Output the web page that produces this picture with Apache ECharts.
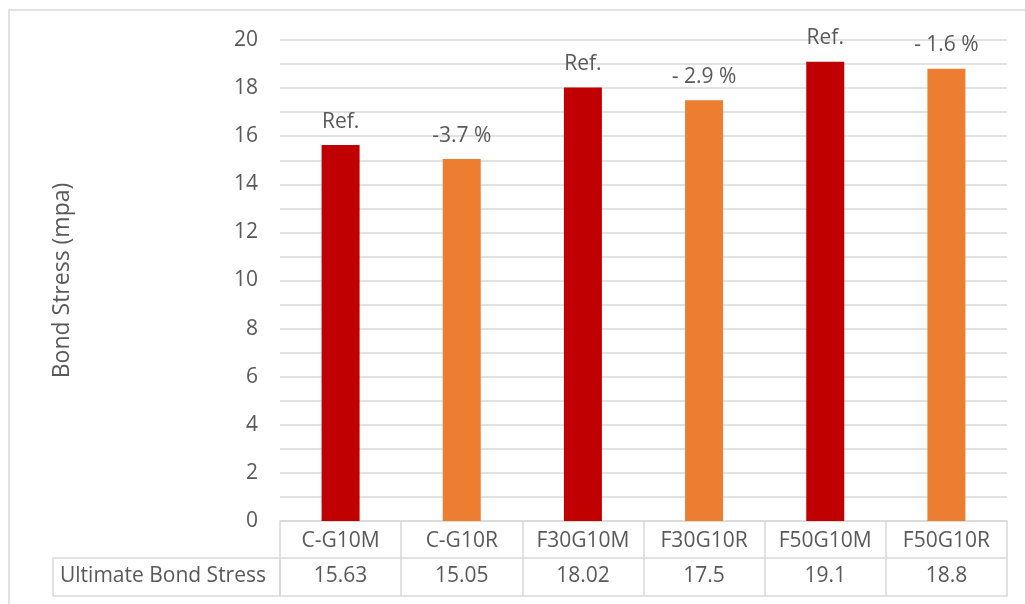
<!DOCTYPE html>
<html>
<head>
<meta charset="utf-8">
<script src="https://cdn.jsdelivr.net/npm/echarts@6/dist/echarts.min.js"></script>
<style>
  html, body { margin: 0; padding: 0; background: #ffffff; }
  #chart { width: 1025px; height: 604px; }
</style>
</head>
<body>
<div id="chart"></div>
<script>
// Specimen names, ultimate bond stress (MPa) and the note shown over each column
const categories = ['C-G10M', 'C-G10R', 'F30G10M', 'F30G10R', 'F50G10M', 'F50G10R'];
const bondStress = [15.63, 15.05, 18.02, 17.5, 19.1, 18.8];
const notes = ['Ref.', '-3.7 %', 'Ref.', '- 2.9 %', 'Ref.', '- 1.6 %'];
const seriesName = 'Ultimate Bond Stress';
const yTicks = { min: 0, max: 20, interval: 2 };

const FONT = '"Open Sans", Lato, sans-serif';
const FS = 21;
const TEXT = '#595959';
const LINE = '#d9d9d9';
const MAIN = '#C00000';
const ALT = '#ED7D31';

const chart = echarts.init(document.getElementById('chart'), null, { renderer: 'canvas' });

const option = {
  backgroundColor: '#ffffff',
  animation: false,
  textStyle: { fontFamily: FONT },
  grid: { left: 280, right: 18, top: 40, bottom: 83, containLabel: false },
  xAxis: [
    {
      // category row of the data table
      type: 'category',
      data: categories,
      position: 'bottom',
      axisLine: { show: true, lineStyle: { color: LINE, width: 1.5 } },
      axisTick: { show: true, interval: 0, length: 75, lineStyle: { color: LINE, width: 1.5 } },
      axisLabel: { interval: 0, margin: 10, fontSize: FS, color: TEXT, fontFamily: FONT }
    },
    {
      // value row of the data table
      type: 'category',
      data: categories,
      position: 'bottom',
      offset: 37,
      axisLine: { show: true, lineStyle: { color: LINE, width: 1.5 } },
      axisTick: { show: false },
      axisLabel: {
        interval: 0, margin: 8, fontSize: FS, color: TEXT, fontFamily: FONT,
        formatter: (v, i) => String(bondStress[i])
      }
    },
    {
      // bottom border of the data table
      type: 'category',
      data: categories,
      position: 'bottom',
      offset: 75,
      axisLine: { show: true, lineStyle: { color: LINE, width: 1.5 } },
      axisTick: { show: false },
      axisLabel: { show: false }
    }
  ],
  yAxis: {
    type: 'value',
    min: yTicks.min,
    max: yTicks.max,
    interval: yTicks.interval,
    name: 'Bond Stress (mpa)',
    nameLocation: 'middle',
    nameGap: 206,
    nameRotate: 90,
    nameTextStyle: { fontSize: 23, color: TEXT, fontFamily: FONT },
    axisLine: { show: false },
    axisTick: { show: false },
    axisLabel: { fontSize: FS, color: TEXT, margin: 22, fontFamily: FONT },
    splitLine: { show: true, lineStyle: { color: LINE, width: 1.5 } },
    minorTick: { show: false, splitNumber: 2 },
    minorSplitLine: { show: true, lineStyle: { color: LINE, width: 1.5 } }
  },
  series: [
    {
      name: seriesName,
      type: 'bar',
      xAxisIndex: 0,
      barWidth: 38,
      data: bondStress.map((v, i) => ({
        value: v,
        itemStyle: { color: i % 2 === 0 ? MAIN : ALT }
      })),
      label: {
        show: true,
        position: 'top',
        distance: 13,
        fontSize: FS,
        color: TEXT,
        fontFamily: FONT,
        formatter: (p) => notes[p.dataIndex]
      }
    }
  ],
  graphic: [
    {
      // chart frame
      type: 'rect',
      shape: { x: 9, y: 10, width: 1040, height: 620 },
      style: { fill: 'none', stroke: LINE, lineWidth: 1.5 },
      silent: true
    },
    {
      // row header cell of the data table
      type: 'rect',
      shape: { x: 53, y: 558, width: 227, height: 38 },
      style: { fill: 'none', stroke: LINE, lineWidth: 1.5 },
      silent: true
    },
    {
      type: 'text',
      left: 60,
      top: 566,
      style: { text: seriesName, fontSize: FS, fill: TEXT, fontFamily: FONT }
    }
  ]
};

chart.setOption(option);
</script>
</body>
</html>
